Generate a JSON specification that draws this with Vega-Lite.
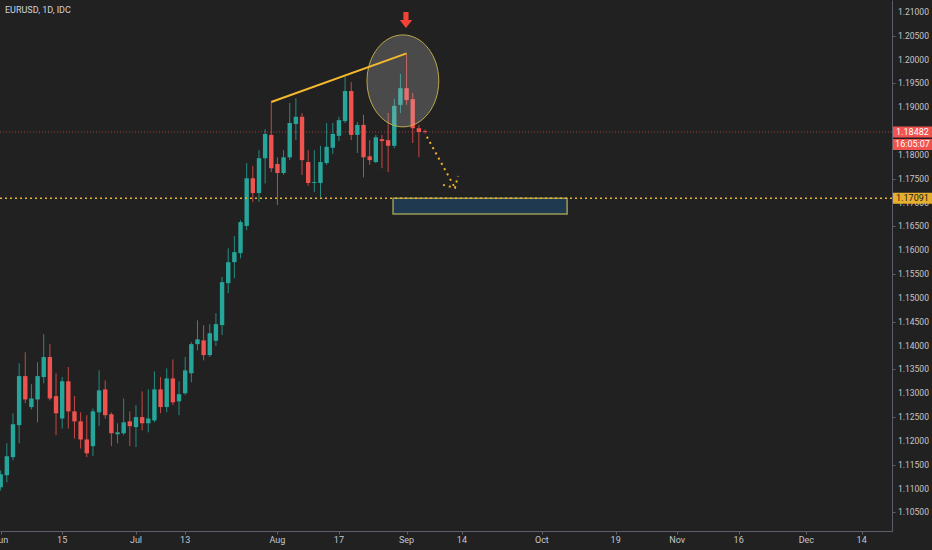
{
  "$schema": "https://vega.github.io/schema/vega-lite/v6.json",
  "autosize": {"type": "none"},
  "padding": {"left": 0, "top": 0, "right": 40, "bottom": 19},
  "width": 892,
  "height": 531,
  "background": "#212121",
  "title": {"text": "EURUSD, 1D, IDC", "anchor": "start", "frame": "group", "offset": -15, "dx": 5, "fontSize": 9, "fontWeight": "normal", "color": "#d1d4dc", "font": "Roboto"},
  "datasets": {
    "candles": [
      {"i": -22, "date": "2020-06-01", "o": 1.1103, "h": 1.1138, "l": 1.1096, "c": 1.1130},
      {"i": -21, "date": "2020-06-02", "o": 1.1128, "h": 1.1195, "l": 1.1113, "c": 1.1168},
      {"i": -20, "date": "2020-06-03", "o": 1.1166, "h": 1.1258, "l": 1.1159, "c": 1.1235},
      {"i": -19, "date": "2020-06-04", "o": 1.1233, "h": 1.1363, "l": 1.1195, "c": 1.1336},
      {"i": -18, "date": "2020-06-05", "o": 1.1336, "h": 1.1386, "l": 1.1279, "c": 1.1287},
      {"i": -17, "date": "2020-06-08", "o": 1.1271, "h": 1.1319, "l": 1.1266, "c": 1.1289},
      {"i": -16, "date": "2020-06-09", "o": 1.1287, "h": 1.1365, "l": 1.1239, "c": 1.1336},
      {"i": -15, "date": "2020-06-10", "o": 1.1334, "h": 1.1424, "l": 1.1321, "c": 1.1376},
      {"i": -14, "date": "2020-06-11", "o": 1.1376, "h": 1.1403, "l": 1.1285, "c": 1.1289},
      {"i": -13, "date": "2020-06-12", "o": 1.1294, "h": 1.1342, "l": 1.1212, "c": 1.1258},
      {"i": -12, "date": "2020-06-15", "o": 1.1247, "h": 1.1334, "l": 1.1226, "c": 1.1325},
      {"i": -11, "date": "2020-06-16", "o": 1.1325, "h": 1.1355, "l": 1.1226, "c": 1.1262},
      {"i": -10, "date": "2020-06-17", "o": 1.1262, "h": 1.1294, "l": 1.1205, "c": 1.1241},
      {"i": -9, "date": "2020-06-18", "o": 1.1241, "h": 1.1260, "l": 1.1184, "c": 1.1203},
      {"i": -8, "date": "2020-06-19", "o": 1.1203, "h": 1.1254, "l": 1.1166, "c": 1.1174},
      {"i": -7, "date": "2020-06-22", "o": 1.1189, "h": 1.1268, "l": 1.1168, "c": 1.1262},
      {"i": -6, "date": "2020-06-23", "o": 1.1260, "h": 1.1348, "l": 1.1231, "c": 1.1306},
      {"i": -5, "date": "2020-06-24", "o": 1.1308, "h": 1.1327, "l": 1.1247, "c": 1.1254},
      {"i": -4, "date": "2020-06-25", "o": 1.1256, "h": 1.1260, "l": 1.1189, "c": 1.1216},
      {"i": -3, "date": "2020-06-26", "o": 1.1214, "h": 1.1237, "l": 1.1195, "c": 1.1218},
      {"i": -2, "date": "2020-06-29", "o": 1.1216, "h": 1.1289, "l": 1.1212, "c": 1.1239},
      {"i": -1, "date": "2020-06-30", "o": 1.1241, "h": 1.1262, "l": 1.1189, "c": 1.1231},
      {"i": 0, "date": "2020-07-01", "o": 1.1229, "h": 1.1275, "l": 1.1187, "c": 1.1250},
      {"i": 1, "date": "2020-07-02", "o": 1.1250, "h": 1.1304, "l": 1.1222, "c": 1.1237},
      {"i": 2, "date": "2020-07-03", "o": 1.1237, "h": 1.1308, "l": 1.1218, "c": 1.1247},
      {"i": 3, "date": "2020-07-06", "o": 1.1243, "h": 1.1346, "l": 1.1239, "c": 1.1308},
      {"i": 4, "date": "2020-07-07", "o": 1.1308, "h": 1.1334, "l": 1.1258, "c": 1.1271},
      {"i": 5, "date": "2020-07-08", "o": 1.1271, "h": 1.1352, "l": 1.1260, "c": 1.1331},
      {"i": 6, "date": "2020-07-09", "o": 1.1331, "h": 1.1371, "l": 1.1275, "c": 1.1281},
      {"i": 7, "date": "2020-07-10", "o": 1.1283, "h": 1.1325, "l": 1.1254, "c": 1.1298},
      {"i": 8, "date": "2020-07-13", "o": 1.1300, "h": 1.1376, "l": 1.1296, "c": 1.1348},
      {"i": 9, "date": "2020-07-14", "o": 1.1342, "h": 1.1407, "l": 1.1323, "c": 1.1403},
      {"i": 10, "date": "2020-07-15", "o": 1.1403, "h": 1.1453, "l": 1.1390, "c": 1.1413},
      {"i": 11, "date": "2020-07-16", "o": 1.1411, "h": 1.1443, "l": 1.1369, "c": 1.1380},
      {"i": 12, "date": "2020-07-17", "o": 1.1380, "h": 1.1445, "l": 1.1376, "c": 1.1426},
      {"i": 13, "date": "2020-07-20", "o": 1.1410, "h": 1.1468, "l": 1.1399, "c": 1.1445},
      {"i": 14, "date": "2020-07-21", "o": 1.1443, "h": 1.1544, "l": 1.1422, "c": 1.1533},
      {"i": 15, "date": "2020-07-22", "o": 1.1531, "h": 1.1604, "l": 1.1510, "c": 1.1575},
      {"i": 16, "date": "2020-07-23", "o": 1.1575, "h": 1.1630, "l": 1.1541, "c": 1.1596},
      {"i": 17, "date": "2020-07-24", "o": 1.1594, "h": 1.1663, "l": 1.1583, "c": 1.1659},
      {"i": 18, "date": "2020-07-27", "o": 1.1651, "h": 1.1783, "l": 1.1642, "c": 1.1751},
      {"i": 19, "date": "2020-07-28", "o": 1.1751, "h": 1.1777, "l": 1.1701, "c": 1.1720},
      {"i": 20, "date": "2020-07-29", "o": 1.1720, "h": 1.1810, "l": 1.1701, "c": 1.1793},
      {"i": 21, "date": "2020-07-30", "o": 1.1793, "h": 1.1854, "l": 1.1740, "c": 1.1844},
      {"i": 22, "date": "2020-07-31", "o": 1.1842, "h": 1.1911, "l": 1.1764, "c": 1.1772},
      {"i": 23, "date": "2020-08-03", "o": 1.1781, "h": 1.1795, "l": 1.1695, "c": 1.1762},
      {"i": 24, "date": "2020-08-04", "o": 1.1762, "h": 1.1810, "l": 1.1758, "c": 1.1795},
      {"i": 25, "date": "2020-08-05", "o": 1.1795, "h": 1.1909, "l": 1.1789, "c": 1.1867},
      {"i": 26, "date": "2020-08-06", "o": 1.1865, "h": 1.1919, "l": 1.1831, "c": 1.1880},
      {"i": 27, "date": "2020-08-07", "o": 1.1880, "h": 1.1888, "l": 1.1758, "c": 1.1789},
      {"i": 28, "date": "2020-08-10", "o": 1.1785, "h": 1.1810, "l": 1.1735, "c": 1.1741},
      {"i": 29, "date": "2020-08-11", "o": 1.1741, "h": 1.1810, "l": 1.1722, "c": 1.1743},
      {"i": 30, "date": "2020-08-12", "o": 1.1741, "h": 1.1819, "l": 1.1711, "c": 1.1785},
      {"i": 31, "date": "2020-08-13", "o": 1.1783, "h": 1.1867, "l": 1.1779, "c": 1.1817},
      {"i": 32, "date": "2020-08-14", "o": 1.1815, "h": 1.1867, "l": 1.1802, "c": 1.1844},
      {"i": 33, "date": "2020-08-17", "o": 1.1840, "h": 1.1880, "l": 1.1829, "c": 1.1873},
      {"i": 34, "date": "2020-08-18", "o": 1.1871, "h": 1.1964, "l": 1.1867, "c": 1.1934},
      {"i": 35, "date": "2020-08-19", "o": 1.1934, "h": 1.1953, "l": 1.1831, "c": 1.1842},
      {"i": 36, "date": "2020-08-20", "o": 1.1842, "h": 1.1869, "l": 1.1804, "c": 1.1863},
      {"i": 37, "date": "2020-08-21", "o": 1.1863, "h": 1.1884, "l": 1.1753, "c": 1.1795},
      {"i": 38, "date": "2020-08-24", "o": 1.1797, "h": 1.1831, "l": 1.1779, "c": 1.1789},
      {"i": 39, "date": "2020-08-25", "o": 1.1785, "h": 1.1842, "l": 1.1783, "c": 1.1837},
      {"i": 40, "date": "2020-08-26", "o": 1.1833, "h": 1.1842, "l": 1.1772, "c": 1.1829},
      {"i": 41, "date": "2020-08-27", "o": 1.1831, "h": 1.1888, "l": 1.1764, "c": 1.1819},
      {"i": 42, "date": "2020-08-28", "o": 1.1819, "h": 1.1918, "l": 1.1814, "c": 1.1903},
      {"i": 43, "date": "2020-08-31", "o": 1.1905, "h": 1.1970, "l": 1.1888, "c": 1.1940},
      {"i": 44, "date": "2020-09-01", "o": 1.1940, "h": 1.2011, "l": 1.1905, "c": 1.1915},
      {"i": 45, "date": "2020-09-02", "o": 1.1917, "h": 1.1930, "l": 1.1825, "c": 1.1856},
      {"i": 46, "date": "2020-09-03", "o": 1.1856, "h": 1.1863, "l": 1.1795, "c": 1.1848},
      {"i": 47, "date": "2020-09-04", "o": 1.1850, "h": 1.1853, "l": 1.1845, "c": 1.18482}
    ],
    "xticks": [
      {"i": -22, "label": "Jun"}, {"i": -12, "label": "15"}, {"i": 0, "label": "Jul"}, {"i": 8, "label": "13"},
      {"i": 23, "label": "Aug"}, {"i": 33, "label": "17"}, {"i": 44, "label": "Sep"}, {"i": 53, "label": "14"},
      {"i": 66, "label": "Oct"}, {"i": 78, "label": "19"}, {"i": 88, "label": "Nov"}, {"i": 98, "label": "16"},
      {"i": 109, "label": "Dec"}, {"i": 118, "label": "14"}
    ],
    "yticks": [
      {"price": 1.105}, {"price": 1.11}, {"price": 1.115}, {"price": 1.12}, {"price": 1.125}, {"price": 1.13},
      {"price": 1.135}, {"price": 1.14}, {"price": 1.145}, {"price": 1.15}, {"price": 1.155}, {"price": 1.16},
      {"price": 1.165}, {"price": 1.17}, {"price": 1.175}, {"price": 1.18}, {"price": 1.185}, {"price": 1.19},
      {"price": 1.195}, {"price": 1.2}, {"price": 1.205}, {"price": 1.21}
    ],
    "levels": [
      {"price": 1.18482, "kind": "last"},
      {"price": 1.17091, "kind": "level"}
    ],
    "tags": [
      {"price": 1.18482, "label": "1.18482", "kind": "last"},
      {"price": 1.18482, "label": "16:05:07", "kind": "timer"},
      {"price": 1.17091, "label": "1.17091", "kind": "level"}
    ],
    "zone": [{"i1": 41.8, "i2": 70.1, "top": 1.17091, "bottom": 1.16762}],
    "trend": [{"i": 22, "price": 1.1911}, {"i": 44, "price": 1.2013}],
    "focus": [{"i": 43.4, "price": 1.19553}],
    "marker": [{"i": 43.9, "price": 1.2083}],
    "path": [
      {"seg": "shaft", "i": 47.3, "price": 1.1838},
      {"seg": "shaft", "i": 51.87, "price": 1.17308},
      {"seg": "head", "i": 49.92, "price": 1.17371},
      {"seg": "head", "i": 51.87, "price": 1.17308},
      {"seg": "head", "i": 52.36, "price": 1.1756}
    ]
  },
  "layer": [
    {
      "data": {"name": "candles"},
      "mark": {"type": "rule", "strokeWidth": 1, "opacity": 0.8},
      "encoding": {
        "x": {
          "field": "i", "type": "quantitative",
          "scale": {"domain": [-22.11, 122.93], "nice": false, "zero": false, "padding": 0},
          "axis": {
            "title": null, "orient": "bottom", "grid": false, "labels": false,
            "values": [-22, -12, 0, 8, 23, 33, 44, 53, 66, 78, 88, 98, 109, 118],
            "tickSize": 3
          }
        },
        "y": {
          "field": "l", "type": "quantitative",
          "scale": {"domain": [1.1011, 1.2125], "nice": false, "zero": false, "padding": 0},
          "axis": {
            "title": null, "orient": "right", "grid": false, "labels": false,
            "values": [1.105, 1.11, 1.115, 1.12, 1.125, 1.13, 1.135, 1.14, 1.145, 1.15, 1.155, 1.16, 1.165, 1.17, 1.175, 1.18, 1.185, 1.19, 1.195, 1.2, 1.205, 1.21],
            "tickSize": 3
          }
        },
        "y2": {"field": "h"},
        "color": {"condition": {"test": "datum.c >= datum.o", "value": "#26a69a"}, "value": "#ef5350"}
      }
    },
    {
      "data": {"name": "candles"},
      "mark": {"type": "bar", "width": 4.4},
      "encoding": {
        "x": {"field": "i", "type": "quantitative"},
        "y": {"field": "o", "type": "quantitative"},
        "y2": {"field": "c"},
        "color": {"condition": {"test": "datum.c >= datum.o", "value": "#26a69a"}, "value": "#ef5350"}
      }
    },
    {
      "mark": {"type": "rule", "color": "#5d606b", "strokeWidth": 1},
      "encoding": {
        "x": {"datum": 122.93, "type": "quantitative"},
        "x2": {"datum": 129.5},
        "y": {"datum": 1.1011, "type": "quantitative"}
      }
    },
    {
      "mark": {"type": "rule", "color": "#5d606b", "strokeWidth": 1},
      "encoding": {
        "x": {"datum": 122.93, "type": "quantitative"},
        "y": {"datum": 1.1011, "type": "quantitative"},
        "y2": {"datum": 1.0970}
      }
    },
    {
      "data": {"name": "xticks"},
      "mark": {"type": "text", "font": "Roboto", "fontSize": 9, "color": "#c4c6cc", "align": "center", "baseline": "top", "dy": 5},
      "encoding": {
        "x": {"field": "i", "type": "quantitative"},
        "y": {"datum": 1.1011, "type": "quantitative"},
        "text": {"field": "label"}
      }
    },
    {
      "data": {"name": "yticks"},
      "mark": {"type": "text", "font": "Roboto", "fontSize": 8.5, "color": "#c4c6cc", "align": "left", "baseline": "middle", "dx": 6},
      "encoding": {
        "x": {"datum": 122.93, "type": "quantitative"},
        "y": {"field": "price", "type": "quantitative"},
        "text": {"field": "price", "format": ".5f"}
      }
    },
    {
      "data": {"name": "zone"},
      "mark": {"type": "rect", "fill": "#1f3a50", "stroke": "#9c9a55", "strokeWidth": 1.5},
      "encoding": {
        "x": {"field": "i1", "type": "quantitative"},
        "x2": {"field": "i2"},
        "y": {"field": "top", "type": "quantitative"},
        "y2": {"field": "bottom"}
      }
    },
    {
      "data": {"name": "levels"},
      "transform": [{"filter": "datum.kind == 'last'"}],
      "mark": {"type": "rule", "color": "#ef5350", "opacity": 0.6, "strokeDash": [1, 2], "strokeWidth": 1},
      "encoding": {"y": {"field": "price", "type": "quantitative"}}
    },
    {
      "data": {"name": "levels"},
      "transform": [{"filter": "datum.kind == 'level'"}],
      "mark": {"type": "rule", "color": "#e8b533", "strokeDash": [2, 3], "strokeWidth": 1.3},
      "encoding": {"y": {"field": "price", "type": "quantitative"}}
    },
    {
      "data": {"name": "path"},
      "mark": {"type": "line", "color": "#f0b429", "strokeDash": [2, 4], "strokeWidth": 2},
      "encoding": {
        "x": {"field": "i", "type": "quantitative"},
        "y": {"field": "price", "type": "quantitative"},
        "detail": {"field": "seg"},
        "order": {"value": null}
      }
    },
    {
      "data": {"name": "focus"},
      "mark": {
        "type": "point", "filled": false,
        "shape": "M-0.78,0A0.78,1,0,1,0,0.78,0A0.78,1,0,1,0,-0.78,0Z",
        "size": 8464, "fill": "#c8c8c8", "fillOpacity": 0.25,
        "stroke": "#c9b44a", "strokeWidth": 1, "strokeOpacity": 0.9, "opacity": 1
      },
      "encoding": {
        "x": {"field": "i", "type": "quantitative"},
        "y": {"field": "price", "type": "quantitative"}
      }
    },
    {
      "data": {"name": "trend"},
      "mark": {"type": "line", "color": "#f5b82e", "strokeWidth": 2},
      "encoding": {
        "x": {"field": "i", "type": "quantitative"},
        "y": {"field": "price", "type": "quantitative"}
      }
    },
    {
      "data": {"name": "marker"},
      "mark": {
        "type": "point", "filled": true, "opacity": 1,
        "shape": "M-0.32,-1L0.32,-1L0.32,0L0.78,0L0,1L-0.78,0L-0.32,0Z",
        "size": 256, "color": "#f44336"
      },
      "encoding": {
        "x": {"field": "i", "type": "quantitative"},
        "y": {"field": "price", "type": "quantitative"}
      }
    },
    {
      "data": {"name": "tags"},
      "transform": [{"filter": "datum.kind != 'timer'"}],
      "mark": {"type": "point", "filled": true, "opacity": 1, "shape": "M-1,-0.282L1,-0.282L1,0.282L-1,0.282Z", "size": 1521},
      "encoding": {
        "x": {"datum": 126.26, "type": "quantitative"},
        "y": {"field": "price", "type": "quantitative"},
        "color": {"condition": {"test": "datum.kind == 'level'", "value": "#e6b02e"}, "value": "#f05350"}
      }
    },
    {
      "data": {"name": "tags"},
      "transform": [{"filter": "datum.kind == 'timer'"}],
      "mark": {"type": "point", "filled": true, "opacity": 1, "shape": "M-1,-0.282L1,-0.282L1,0.282L-1,0.282Z", "size": 1521, "color": "#f05350", "yOffset": 12.5},
      "encoding": {
        "x": {"datum": 126.26, "type": "quantitative"},
        "y": {"field": "price", "type": "quantitative"}
      }
    },
    {
      "data": {"name": "tags"},
      "transform": [{"filter": "datum.kind != 'timer'"}],
      "mark": {"type": "text", "fontSize": 9, "font": "Roboto", "align": "center", "baseline": "middle"},
      "encoding": {
        "x": {"datum": 126.26, "type": "quantitative"},
        "y": {"field": "price", "type": "quantitative"},
        "text": {"field": "label"},
        "color": {"condition": {"test": "datum.kind == 'level'", "value": "#1a1a1a"}, "value": "#ffffff"}
      }
    },
    {
      "data": {"name": "tags"},
      "transform": [{"filter": "datum.kind == 'timer'"}],
      "mark": {"type": "text", "fontSize": 9, "font": "Roboto", "align": "center", "baseline": "middle", "color": "#ffffff", "yOffset": 12.5},
      "encoding": {
        "x": {"datum": 126.26, "type": "quantitative"},
        "y": {"field": "price", "type": "quantitative"},
        "text": {"field": "label"}
      }
    }
  ],
  "config": {
    "view": {"stroke": null},
    "axis": {"domainColor": "#5d606b", "tickColor": "#5d606b"}
  }
}
